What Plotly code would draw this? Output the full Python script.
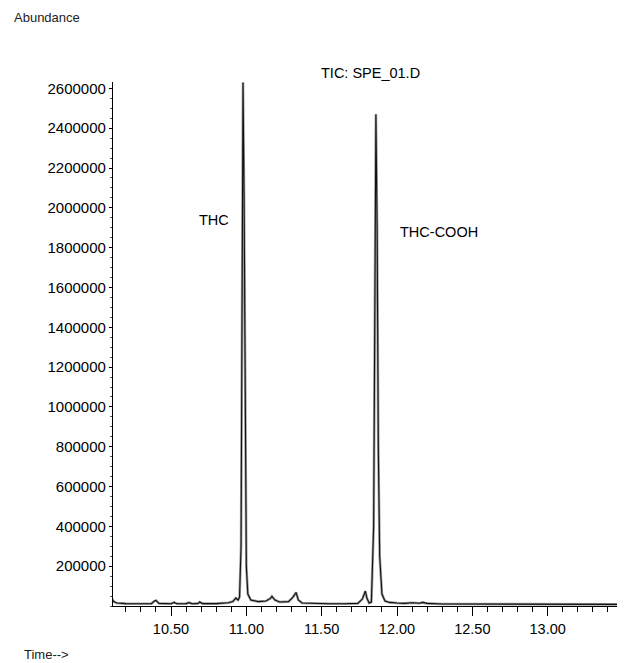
import plotly.graph_objects as go

# Retention time (min) and abundance
time_min = [10.11, 10.12, 10.14, 10.20, 10.30, 10.37, 10.39, 10.40, 10.42, 10.50,
            10.52, 10.54, 10.60, 10.62, 10.64, 10.68, 10.69, 10.71, 10.80, 10.88,
            10.91, 10.93, 10.945, 10.955, 10.965, 10.972, 10.978, 10.985, 10.992, 11.00,
            11.01, 11.03, 11.08, 11.13, 11.16, 11.17, 11.19, 11.22, 11.28, 11.31,
            11.33, 11.345, 11.37, 11.45, 11.55, 11.65, 11.74, 11.77, 11.79, 11.80,
            11.815, 11.83, 11.845, 11.853, 11.86, 11.868, 11.876, 11.885, 11.90, 11.92,
            11.95, 12.00, 12.05, 12.10, 12.15, 12.17, 12.20, 12.30, 12.50, 12.70,
            13.00, 13.50]
abundance = [35000, 22000, 15000, 12000, 11000, 12000, 25000, 28000, 13000, 11000,
             18000, 11000, 12000, 17000, 11000, 13000, 20000, 12000, 12000, 16000,
             22000, 40000, 30000, 45000, 300000, 1700000, 2630000, 2050000, 900000, 200000,
             60000, 30000, 22000, 25000, 38000, 48000, 30000, 20000, 22000, 45000,
             68000, 30000, 15000, 12000, 11000, 11000, 13000, 35000, 75000, 40000,
             15000, 20000, 400000, 1500000, 2470000, 1900000, 800000, 250000, 60000, 25000,
             18000, 15000, 13000, 16000, 14000, 18000, 13000, 10000, 10000, 9000,
             8000, 8000]

y_tick_values = [200000, 400000, 600000, 800000, 1000000, 1200000, 1400000,
                 1600000, 1800000, 2000000, 2200000, 2400000, 2600000]
x_tick_values = [10.5, 11.0, 11.5, 12.0, 12.5, 13.0]
x_tick_labels = ["10.50", "11.00", "11.50", "12.00", "12.50", "13.00"]

peak_labels = ["THC", "THC-COOH"]
peak_label_x = [10.785, 12.28]
peak_label_y = [1937000, 1877000]

FONT = "Liberation Sans, Arial, sans-serif"

fig = go.Figure()
fig.add_trace(go.Scatter(x=time_min, y=abundance, mode="lines",
                         line=dict(color="#a0a0a0", width=2.6), hoverinfo="skip",
                         showlegend=False))
fig.add_trace(go.Scatter(x=time_min, y=abundance, mode="lines",
                         line=dict(color="#111111", width=1.1), showlegend=False))

for txt, xv, yv in zip(peak_labels, peak_label_x, peak_label_y):
    fig.add_annotation(x=xv, y=yv, xref="x", yref="y", text=txt, showarrow=False,
                       xanchor="center", yanchor="middle",
                       font=dict(family=FONT, size=14.5, color="black"))

fig.add_annotation(x=0.504, y=1.017, xref="paper", yref="paper", text="TIC: SPE_01.D",
                   xanchor="center", yanchor="middle",
                   showarrow=False, font=dict(family=FONT, size=14.5, color="black"))
fig.add_annotation(x=-0.198, y=1.124, xref="paper", yref="paper", text="Abundance",
                   xanchor="left", yanchor="middle", showarrow=False,
                   font=dict(family=FONT, size=13, color="#222222"))
fig.add_annotation(x=-0.178, y=-0.0935, xref="paper", yref="paper", text="Time-->",
                   xanchor="left", yanchor="middle", showarrow=False,
                   font=dict(family=FONT, size=13, color="#222222"))

fig.update_layout(
    width=617, height=655,
    margin=dict(l=105, r=2, t=74, b=57, autoexpand=False),
    paper_bgcolor="white", plot_bgcolor="white",
    xaxis=dict(range=[10.115, 13.50], tickvals=x_tick_values, ticktext=x_tick_labels,
               showgrid=False, zeroline=False, showline=True, linecolor="black",
               linewidth=1.2, ticks="outside", ticklen=9, tickcolor="black",
               tickfont=dict(family=FONT, size=14.5, color="black"),
               minor=dict(dtick=0.1, tick0=10.5, ticks="outside", ticklen=5,
                          tickcolor="black", showgrid=False)),
    yaxis=dict(range=[0, 2632000], tickvals=y_tick_values, tickformat="d",
               showgrid=False, zeroline=False, showline=True, linecolor="black",
               linewidth=1.2, ticks="outside", ticklen=3, tickcolor="black",
               tickfont=dict(family=FONT, size=15, color="black"),
               minor=dict(dtick=50000, tick0=0, ticks="outside", ticklen=2,
                          tickcolor="#555555", showgrid=False)),
)

fig.write_html("out.html")
